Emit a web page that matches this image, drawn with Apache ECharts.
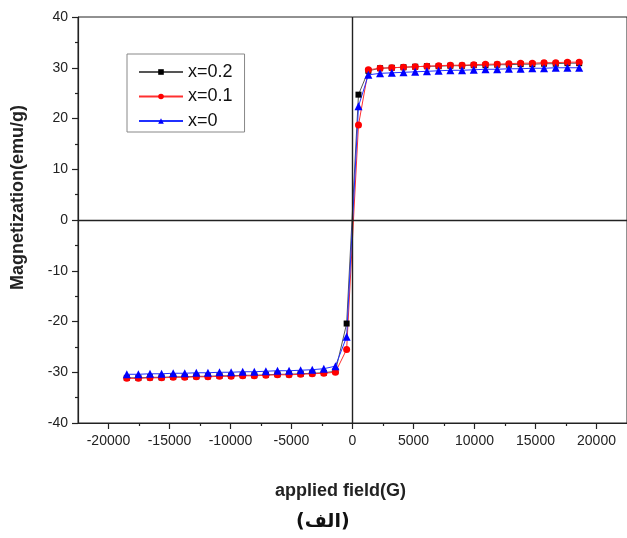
<!DOCTYPE html>
<html>
<head>
<meta charset="utf-8">
<script src="https://cdn.jsdelivr.net/npm/echarts@6/dist/echarts.min.js"></script>
<style>
html,body{margin:0;padding:0;background:#fff;}
#c{width:627px;height:538px;}
</style>
</head>
<body>
<div id="c"></div>
<script>
// Applied field (G)
const field = [-18500,-17550,-16600,-15650,-14700,-13750,-12800,-11850,-10900,-9950,-9000,-8050,-7100,-6150,-5200,-4250,-3300,-2350,-1400,-480,
               490,1300,2260,3220,4180,5140,6100,7060,8020,8980,9940,10900,11860,12820,13780,14740,15700,16660,17620,18580];
// Magnetization (emu/g)
const magX02 = [-31.1,-31.1,-31.0,-31.0,-30.9,-30.9,-30.8,-30.8,-30.7,-30.7,-30.6,-30.6,-30.5,-30.4,-30.4,-30.3,-30.2,-30.1,-29.8,-20.4,
                24.7,29.4,29.9,30.0,30.1,30.2,30.3,30.3,30.4,30.4,30.5,30.5,30.6,30.6,30.7,30.7,30.8,30.8,30.9,30.9];
const magX01 = [-31.2,-31.2,-31.1,-31.1,-31.0,-31.0,-30.9,-30.9,-30.8,-30.8,-30.7,-30.7,-30.6,-30.5,-30.5,-30.4,-30.3,-30.2,-30.0,-25.5,
                18.7,29.6,29.9,30.0,30.1,30.2,30.3,30.4,30.5,30.5,30.6,30.7,30.7,30.8,30.9,30.9,31.0,31.0,31.1,31.1];
const magX0  = [-30.4,-30.4,-30.3,-30.3,-30.2,-30.2,-30.1,-30.1,-30.0,-30.0,-29.9,-29.9,-29.8,-29.7,-29.7,-29.6,-29.5,-29.3,-28.8,-23.0,
                22.4,28.6,28.9,29.0,29.1,29.2,29.3,29.4,29.5,29.5,29.6,29.7,29.7,29.8,29.8,29.9,29.9,30.0,30.0,30.0];
const seriesNames = ['x=0.2','x=0.1','x=0'];
const xMajorTicks = [-20000,-15000,-10000,-5000,0,5000,10000,15000,20000];
const xMinorTicks = [-17500,-12500,-7500,-2500,2500,7500,12500,17500];

const pairs = arr => field.map((f,i)=>[f,arr[i]]);
const chart = echarts.init(document.getElementById('c'));
const font = 'Liberation Sans, Arial, sans-serif';
chart.setOption({
  animation:false,
  backgroundColor:'#fff',
  grid:{left:78,right:-3,top:17,bottom:115,show:true,borderColor:'#222',borderWidth:1,backgroundColor:'transparent'},
  xAxis:[{
    type:'value',min:-22500,max:22500,position:'bottom',
    axisLine:{show:true,onZero:false,lineStyle:{color:'#222',width:1.2}},
    axisTick:{show:true,length:6,customValues:xMajorTicks,lineStyle:{color:'#222',width:1.2}},
    axisLabel:{customValues:xMajorTicks,margin:11,color:'#222',fontSize:14,fontFamily:font,
               formatter:v=>String(v)},
    splitLine:{show:false}
  },{
    type:'value',min:-22500,max:22500,position:'bottom',
    axisLine:{show:false,onZero:false},
    axisTick:{show:true,length:3,customValues:xMinorTicks,lineStyle:{color:'#222',width:1.2}},
    axisLabel:{show:false},
    splitLine:{show:false}
  }],
  yAxis:{
    type:'value',min:-40,max:40,interval:10,
    axisLine:{show:true,onZero:false,lineStyle:{color:'#222',width:1.2}},
    axisTick:{show:true,length:6,lineStyle:{color:'#222',width:1.2}},
    minorTick:{show:true,splitNumber:2,length:3,lineStyle:{color:'#222',width:1.2}},
    axisLabel:{margin:10,color:'#222',fontSize:14,fontFamily:font},
    splitLine:{show:false}
  },
  legend:{
    data:seriesNames,orient:'vertical',left:127,top:54,
    itemWidth:44,itemHeight:7,itemGap:6.5,
    borderColor:'#888',borderWidth:1,padding:[9,12,2,11],
    textStyle:{fontSize:18,fontFamily:font,color:'#111'}
  },
  graphic:[
    {type:'text',left:275,top:482,style:{text:'applied field(G)',font:'bold 18px '+font,fill:'#222'}},
    {type:'text',left:296,top:513,style:{text:'(الف)',font:'bold 19px DejaVu Sans',fill:'#111'}},
    {type:'text',x:9,y:290,rotation:Math.PI/2,style:{text:'Magnetization(emu/g)',font:'bold 18px '+font,fill:'#222'}}
  ],
  series:[
    {name:seriesNames[0],type:'line',data:pairs(magX02),symbol:'rect',symbolSize:6,
     itemStyle:{color:'#000'},lineStyle:{color:'#555',width:1},
     markLine:{silent:true,symbol:['none','none'],label:{show:false},
       lineStyle:{color:'#222',width:1.4,type:'solid'},data:[{xAxis:0},{yAxis:0}]}},
    {name:seriesNames[1],type:'line',data:pairs(magX01),symbol:'circle',symbolSize:7,
     itemStyle:{color:'#ff0000'},lineStyle:{color:'#ff3030',width:1}},
    {name:seriesNames[2],type:'line',data:pairs(magX0),symbol:'triangle',symbolSize:8,
     itemStyle:{color:'#0000ff'},lineStyle:{color:'#2030ff',width:1}}
  ]
});
</script>
</body>
</html>
